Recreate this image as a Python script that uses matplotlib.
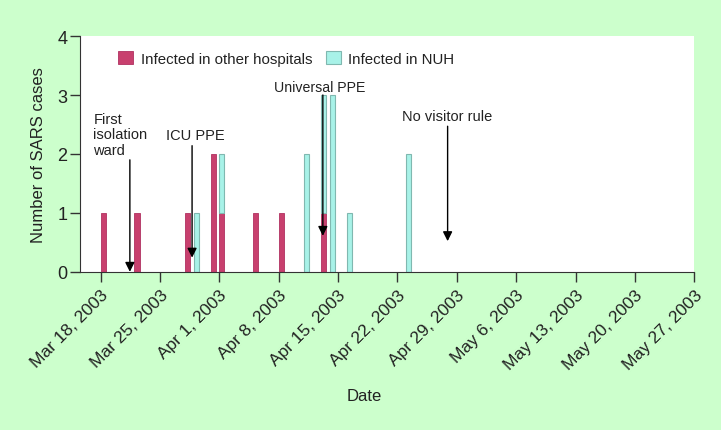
import matplotlib
matplotlib.use("Agg")
import matplotlib.pyplot as plt
import matplotlib.dates as mdates
import numpy as np

plt.rcParams["font.family"] = ["Liberation Sans", "DejaVu Sans"]

# cases per day
other_dates = ["2003-03-18", "2003-03-22", "2003-03-28", "2003-03-31",
               "2003-04-01", "2003-04-05", "2003-04-08", "2003-04-13"]
other_counts = [1, 1, 1, 2, 1, 1, 1, 1]

nuh_dates = ["2003-03-29", "2003-04-01", "2003-04-11", "2003-04-13",
             "2003-04-14", "2003-04-16", "2003-04-23"]
nuh_counts = [1, 1, 2, 2, 3, 1, 2]

tick_dates = ["2003-03-18", "2003-03-25", "2003-04-01", "2003-04-08",
              "2003-04-15", "2003-04-22", "2003-04-29", "2003-05-06",
              "2003-05-13", "2003-05-20", "2003-05-27"]

# interventions: date (fractional day), arrow top, arrow tip
events = [("2003-03-21 11:00", 1.90, 0.0),
          ("2003-03-28 19:00", 2.14, 0.24),
          ("2003-04-13 05:00", 3.0, 0.61),
          ("2003-04-27 22:00", 2.47, 0.52)]

RED = "#c8406e"
CYAN = "#a8f2e8"
BG = "#ccffcc"

def d(s):
    return mdates.date2num(np.datetime64(s))

other_x = [d(s) for s in other_dates]
nuh_x = [d(s) for s in nuh_dates]

# red base under each nuh bar (stacked)
base = dict(zip(other_x, other_counts))
nuh_bottom = [base.get(x, 0) for x in nuh_x]

fig = plt.figure(figsize=(7.21, 4.31), dpi=100, facecolor=BG)
ax = fig.add_axes([0.111, 0.367, 0.852, 0.547])
ax.set_facecolor("white")

w = 0.6
ax.bar(other_x, other_counts, width=w, align="edge", color=RED,
       edgecolor="#b03060", linewidth=0.6, label="Infected in other hospitals")
ax.bar(nuh_x, nuh_counts, width=w, align="edge", bottom=nuh_bottom,
       color=CYAN, edgecolor="#80b8b0", linewidth=0.8, label="Infected in NUH")

for when, top, tip in events:
    x = d(when)
    ax.annotate("", xy=(x, tip), xytext=(x, top),
                arrowprops=dict(arrowstyle="-|>", color="black", lw=1.0,
                                mutation_scale=14, shrinkA=0, shrinkB=0))

txt = "#222222"
ax.text(d("2003-03-17 04:00"), 2.33, "First\nisolation\nward", fontsize=10.5,
        ha="left", va="center", linespacing=1.1, color=txt)
ax.text(d("2003-03-29 05:00"), 2.32, "ICU PPE", fontsize=10.5, ha="center", va="center", color=txt)
ax.text(d("2003-04-12 20:00"), 3.14, "Universal PPE", fontsize=10.2, ha="center", va="center", color=txt)
ax.text(d("2003-04-27 20:00"), 2.65, "No visitor rule", fontsize=10.5, ha="center", va="center", color=txt)

ax.set_xlim(d("2003-03-15 14:00"), d("2003-05-27"))
ax.set_ylim(0, 4)
ax.set_yticks([0, 1, 2, 3, 4])
ticks = [d(s) for s in tick_dates]
ax.set_xticks(ticks)
ax.set_xticklabels([mdates.num2date(t).strftime("%b %-d, %Y") for t in ticks],
                   rotation=45, ha="right", rotation_mode="anchor", fontsize=12.5,
                   color=txt)
ax.tick_params(axis="y", labelsize=13, length=7, width=1, color="#333333",
               labelcolor=txt, pad=2)
ax.tick_params(axis="x", length=7, width=1, color="#333333", pad=4)
for s in ["top", "right"]:
    ax.spines[s].set_visible(False)
for s in ["left", "bottom"]:
    ax.spines[s].set_color("#333333")

ax.set_xlabel("Date", fontsize=12, color=txt, va="center")
ax.xaxis.set_label_coords(0.463, -0.525)
ax.set_ylabel("Number of SARS cases", fontsize=12, labelpad=8, color=txt)

ax.legend(loc="upper left", bbox_to_anchor=(0.04, 0.995), ncol=2, frameon=False,
          fontsize=10.8, handlelength=1.0, handleheight=1.0, columnspacing=0.9,
          handletextpad=0.5, labelcolor=txt)

fig.savefig("out.png", dpi=100, facecolor=BG)
